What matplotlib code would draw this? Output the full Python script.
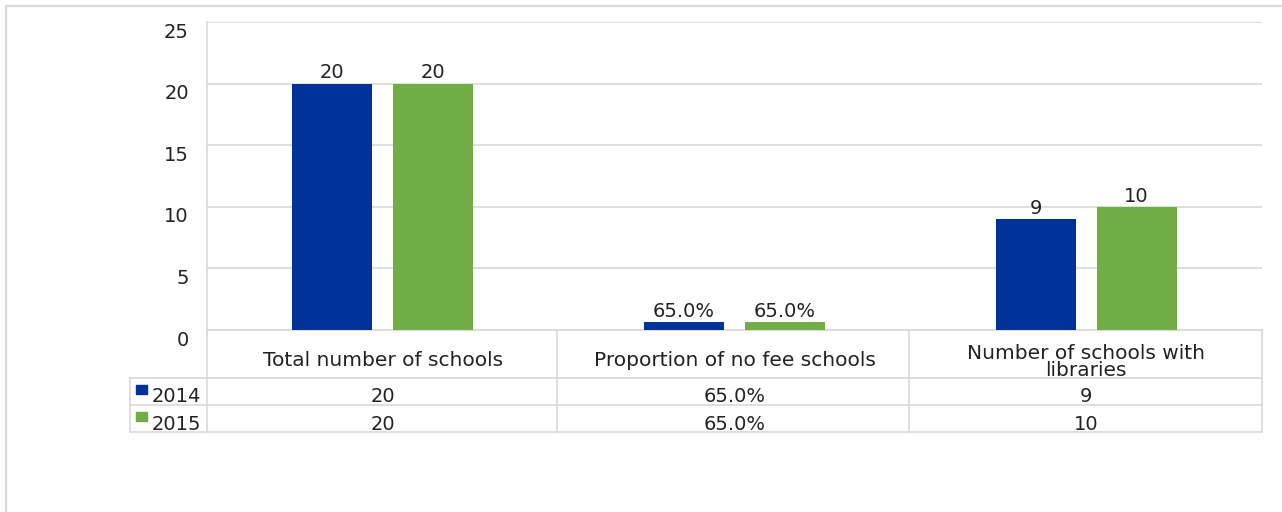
import numpy as np
import matplotlib.pyplot as plt
import matplotlib.transforms as mtransforms
from matplotlib.patches import Rectangle

# chart data
categories = ['Total number of schools', 'Proportion of no fee schools', 'Number of schools with\nlibraries']
years = ['2014', '2015']
vals_2014 = [20, 0.65, 9]
vals_2015 = [20, 0.65, 10]
labels_2014 = ['20', '65.0%', '9']
labels_2015 = ['20', '65.0%', '10']
colors = ['#003399', '#70AD47']
yticks = [0, 5, 10, 15, 20, 25]

W, H = 1282, 512
fig = plt.figure(figsize=(W / 100, H / 100), dpi=100)
ax = fig.add_axes([207 / W, (H - 330) / H, 1055 / W, 308 / H])

x = np.arange(len(categories))
bw = 0.227
off = 0.1435
ax.bar(x - off, vals_2014, bw, color=colors[0], zorder=3)
ax.bar(x + off, vals_2015, bw, color=colors[1], zorder=3)

fs = 14
tc = '#222222'
for xi, v, lab in zip(x, vals_2014, labels_2014):
    ax.text(xi - off, v + 0.1, lab, ha='center', va='bottom', fontsize=fs, color=tc)
for xi, v, lab in zip(x, vals_2015, labels_2015):
    ax.text(xi + off, v + 0.1, lab, ha='center', va='bottom', fontsize=fs, color=tc)

ax.set_xlim(-0.5, 2.5)
ax.set_ylim(0, 25)
ax.set_yticks(yticks)
ax.set_yticklabels([str(t) for t in yticks], fontsize=fs, color=tc)
ax.set_xticks([])
ax.tick_params(axis='y', length=0, pad=13)
# tick labels sit a little below their gridlines, as in the original
shift = mtransforms.ScaledTranslation(0, -8 / 100, fig.dpi_scale_trans)
for lab in ax.get_yticklabels():
    lab.set_transform(lab.get_transform() + shift)
ax.grid(axis='y', color='#d9d9d9', linewidth=1.2, zorder=0)
for s in ['top', 'right', 'bottom']:
    ax.spines[s].set_visible(False)
ax.spines['left'].set_color('#d9d9d9')
ax.spines['left'].set_linewidth(1.2)

# data table below the axes (axes-fraction coordinates)
def fy(py):
    return (330 - py) / 308.0

def fx(px):
    return (px - 207) / 1055.0

lc = '#d9d9d9'
tkw = dict(transform=ax.transAxes, clip_on=False, color=lc, linewidth=1.2)
ax.plot([0, 1], [fy(330), fy(330)], **tkw)
for py in [378, 405, 432]:
    ax.plot([fx(130), 1], [fy(py), fy(py)], **tkw)
for px in [207, 557, 909, 1262]:
    ax.plot([fx(px), fx(px)], [fy(330), fy(432)], **tkw)
ax.plot([fx(130), fx(130)], [fy(378), fy(432)], **tkw)

cfs = 14.5
for xi, cat in enumerate(categories):
    cx = (xi + 0.5) / 3
    if '\n' in cat:
        ax.text(cx, fy(362), cat, ha='center', va='center', fontsize=cfs,
                transform=ax.transAxes, linespacing=0.9, color=tc)
    else:
        ax.text(cx, fy(361), cat, ha='center', va='center', fontsize=cfs,
                transform=ax.transAxes, color=tc)
    ax.text(cx, fy(397), labels_2014[xi], ha='center', va='center', fontsize=fs,
            transform=ax.transAxes, color=tc)
    ax.text(cx, fy(425), labels_2015[xi], ha='center', va='center', fontsize=fs,
            transform=ax.transAxes, color=tc)

for i, (yr, c) in enumerate(zip(years, colors)):
    top = 385 + 27 * i
    ax.add_patch(Rectangle((fx(136), fy(top + 9)), fx(147) - fx(136), fy(top) - fy(top + 9),
                           transform=ax.transAxes, clip_on=False, color=c))
    ax.text(fx(152), fy(397 + 27 * i), yr, ha='left', va='center', fontsize=fs,
            transform=ax.transAxes, color=tc)

# outer chart border
fig.patches.append(Rectangle((6 / W, -0.01), 1.02, 1 - 6 / H + 0.01, transform=fig.transFigure,
                             fill=False, edgecolor='#d9d9d9', linewidth=1.5))

fig.savefig('out.png', dpi=100)
